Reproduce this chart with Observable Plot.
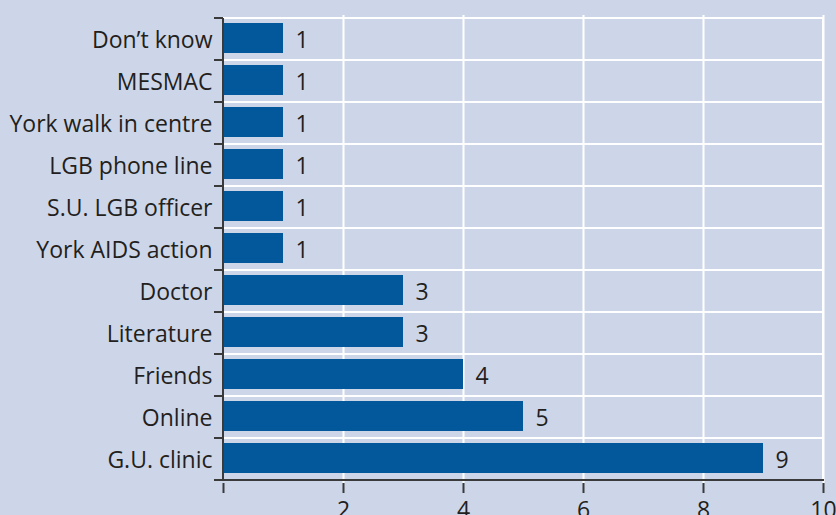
<!DOCTYPE html>
<html>
<head>
<meta charset="utf-8">
<script src="https://cdn.jsdelivr.net/npm/d3@7"></script>
<script src="https://cdn.jsdelivr.net/npm/@observablehq/plot@0.6"></script>
<style>
  html, body { margin: 0; padding: 0; background: #cdd6e9; }
  #chart { width: 836px; height: 515px; overflow: hidden; }
</style>
</head>
<body>
<div id="chart"></div>
<script>
const categories = ["Don’t know", "MESMAC", "York walk in centre", "LGB phone line", "S.U. LGB officer", "York AIDS action", "Doctor", "Literature", "Friends", "Online", "G.U. clinic"];
const values = [1, 1, 1, 1, 1, 1, 3, 3, 4, 5, 9];
const xTicks = [0, 2, 4, 6, 8, 10];

const data = categories.map((c, i) => ({category: c, value: values[i]}));
const axisColor = "#3a3a3a";
const textColor = "#231f20";

// axis frame lines + left ticks at band boundaries, using the plot's scales
function frameLines(index, scales, values, dims) {
  const g = d3.create("svg:g");
  const y = scales.y, x = scales.x;
  const bw = y.bandwidth ? y.bandwidth() : (dims.height - dims.marginTop - dims.marginBottom) / categories.length;
  const x0 = x(xTicks[0]), x1 = x(xTicks[xTicks.length - 1]);
  const top = y(categories[0]);
  const bottom = y(categories[categories.length - 1]) + bw;
  const bounds = categories.map(c => y(c)).concat([bottom]);
  g.attr("stroke", axisColor).attr("stroke-width", 2).attr("fill", "none");
  g.append("line").attr("x1", x0).attr("x2", x0).attr("y1", top).attr("y2", bottom + 1);
  g.append("line").attr("x1", x0 - 1).attr("x2", x1 + 1).attr("y1", bottom).attr("y2", bottom);
  for (const b of bounds) {
    g.append("line").attr("x1", x0 - 9).attr("x2", x0).attr("y1", b).attr("y2", b);
  }
  return g.node();
}

const chart = Plot.plot({
  width: 836,
  height: 515,
  marginLeft: 223,
  marginRight: 13,
  marginTop: 15,
  marginBottom: 32,
  style: {background: "#cdd6e9", fontFamily: "'Open Sans', sans-serif", fontSize: "23px", color: textColor},
  x: {domain: [0, 10]},
  y: {domain: categories, padding: 0},
  marks: [
    Plot.gridX(xTicks.filter(d => d > 0), {stroke: "white", strokeOpacity: 1, strokeWidth: 2}),
    Plot.barX(categories, {x1: 0, x2: 10, y: d => d, fill: "none", stroke: "white", strokeWidth: 2}),
    Plot.barX(data, {x: "value", y: "category", fill: "#02589b", insetTop: 5, insetBottom: 7}),
    Plot.text(data, {x: "value", y: "category", text: d => String(d.value), dx: 12, dy: 1.5, textAnchor: "start", fontSize: 23, fill: textColor}),
    Plot.axisX({ticks: xTicks, tickSize: 10, tickPadding: 8, stroke: axisColor, strokeWidth: 2, fill: textColor, fontSize: 23, label: null,
      tickFormat: d => d === 0 ? "" : String(d)}),
    Plot.axisY({tickSize: 0, tickPadding: 11, dy: 1.5, fill: textColor, fontSize: 23, label: null}),
    frameLines
  ]
});
document.getElementById("chart").appendChild(chart);
</script>
</body>
</html>
